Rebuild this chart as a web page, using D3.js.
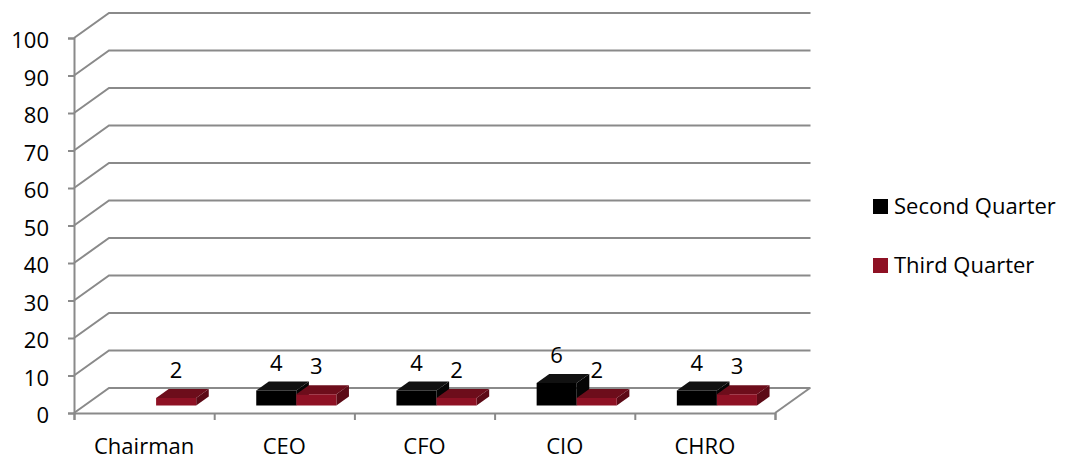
<!DOCTYPE html>
<html>
<head>
<meta charset="utf-8">
<script src="https://cdn.jsdelivr.net/npm/d3@7"></script>
<style>
  html, body { margin: 0; padding: 0; background: #fff; }
  svg { display: block; }
  text { font-family: "Open Sans", "Noto Sans", sans-serif; fill: #000; }
</style>
</head>
<body>
<svg id="chart" width="1069" height="461"></svg>
<script>
// Officer roles and the counts reported per quarter
const categories = ["Chairman", "CEO", "CFO", "CIO", "CHRO"];
const seriesNames = ["Second Quarter", "Third Quarter"];
const secondQuarter = [0, 4, 4, 6, 4];
const thirdQuarter = [2, 3, 2, 2, 3];
const yTicks = [0, 10, 20, 30, 40, 50, 60, 70, 80, 90, 100];

const seriesValues = [secondQuarter, thirdQuarter];
const palette = [
  { front: "#000000", top: "#111111", side: "#050505" },
  { front: "#8e1124", top: "#6d0d1b", side: "#5c0a16" }
];

const svg = d3.select("#chart");
const fontSize = 22;

// Plot frame: front plane and the oblique depth offset of the back wall
const plotLeft = 74, plotRight = 775, plotBottom = 413, plotTop = 38;
const depthX = 35, depthY = -25;

const y = d3.scaleLinear().domain([0, 100]).range([plotBottom, plotTop]);
const x = d3.scaleBand().domain(categories).range([plotLeft, plotRight]);
const xs = d3.scaleBand().domain(seriesNames).range([0, x.bandwidth()]).paddingInner(0).paddingOuter(0.75);
const xIdx = d3.scaleLinear().domain([0, categories.length]).range([plotLeft, plotRight]);

// project a point on the front plane back by depth fraction z
const px = (sx, z) => sx + z * depthX;
const py = (sy, z) => sy + z * depthY;

const gridColor = "#8a8a8a";

// Back wall gridlines with their diagonal run to the front axis
const grid = svg.append("g");
yTicks.forEach(v => {
  const yy = y(v);
  grid.append("polyline")
    .attr("points", [[plotLeft, yy], [px(plotLeft, 1), py(yy, 1)], [px(plotRight, 1) + 0.5, py(yy, 1)]].map(p => p.join(",")).join(" "))
    .attr("fill", "none")
    .attr("stroke", gridColor)
    .attr("stroke-width", 2);
});

// Right edge of the floor
svg.append("line")
  .attr("x1", plotRight).attr("y1", plotBottom)
  .attr("x2", px(plotRight, 1)).attr("y2", py(plotBottom, 1))
  .attr("stroke", gridColor).attr("stroke-width", 2);

// Y axis
const yAxis = svg.append("g")
  .attr("transform", `translate(${plotLeft},0)`)
  .call(d3.axisLeft(y).tickValues(yTicks).tickSize(6).tickPadding(19).tickFormat(d3.format("d")));
yAxis.select(".domain").attr("stroke", gridColor).attr("stroke-width", 2);
yAxis.selectAll(".tick line").attr("stroke", gridColor).attr("stroke-width", 2);
yAxis.selectAll(".tick text")
  .attr("dy", "0.45em")
  .style("font-size", fontSize + "px")
  .style("font-family", '"Open Sans", sans-serif');

// X axis: boundary tick marks
const xTicksAxis = svg.append("g")
  .attr("transform", `translate(0,${plotBottom})`)
  .call(d3.axisBottom(xIdx).tickValues(d3.range(categories.length + 1)).tickSize(7).tickFormat(""));
xTicksAxis.select(".domain").attr("stroke", gridColor).attr("stroke-width", 2);
xTicksAxis.selectAll(".tick line").attr("stroke", gridColor).attr("stroke-width", 2);

// X axis: category labels centred in each band
const xLabelAxis = svg.append("g")
  .attr("transform", `translate(0,${plotBottom})`)
  .call(d3.axisBottom(x).tickSize(0).tickPadding(25));
xLabelAxis.select(".domain").remove();
xLabelAxis.selectAll(".tick text")
  .style("font-size", fontSize + "px")
  .style("font-family", '"Open Sans", sans-serif');

// 3D columns: front, top and right-side faces
const zFront = 0.3, zBack = 0.66;
const bars = svg.append("g");
const labels = [];
categories.forEach((cat, i) => {
  seriesNames.forEach((s, j) => {
    const v = seriesValues[j][i];
    if (v <= 0) return;
    const x0 = x(cat) + xs(s);
    const x1 = x0 + xs.bandwidth();
    const yb = y(0), yt = y(v);
    const F = (sx, sy) => [px(sx, zFront) + 1.5, py(sy, zFront)];
    const B = (sx, sy) => [px(sx, zBack) + 1.5, py(sy, zBack)];
    const c = palette[j];
    const poly = (pts, fill) => bars.append("polygon")
      .attr("points", pts.map(p => p.join(",")).join(" "))
      .attr("fill", fill);
    // right side
    poly([F(x1, yb), B(x1, yb), B(x1, yt), F(x1, yt)], c.side);
    // top
    poly([F(x0, yt), F(x1, yt), B(x1, yt), B(x0, yt)], c.top);
    // front
    poly([F(x0, yb), F(x1, yb), F(x1, yt), F(x0, yt)], c.front);
    const [fx0, fty] = F(x0, yt);
    const [fx1] = F(x1, yt);
    labels.push({ x: (fx0 + fx1) / 2, y: fty - 20, v });
  });
});

// Value labels above each column
svg.append("g").selectAll("text")
  .data(labels)
  .join("text")
  .attr("x", d => d.x)
  .attr("y", d => d.y)
  .attr("text-anchor", "middle")
  .style("font-size", fontSize + "px")
  .text(d => d.v);

// Legend
const legend = svg.append("g");
const legendRows = [{ name: seriesNames[0], y: 214 }, { name: seriesNames[1], y: 273 }];
legendRows.forEach((r, j) => {
  legend.append("rect")
    .attr("x", 873).attr("y", r.y - 15)
    .attr("width", 15).attr("height", 15)
    .attr("fill", palette[j].front);
  legend.append("text")
    .attr("x", 894).attr("y", r.y)
    .style("font-size", fontSize + "px")
    .text(r.name);
});
</script>
</body>
</html>
